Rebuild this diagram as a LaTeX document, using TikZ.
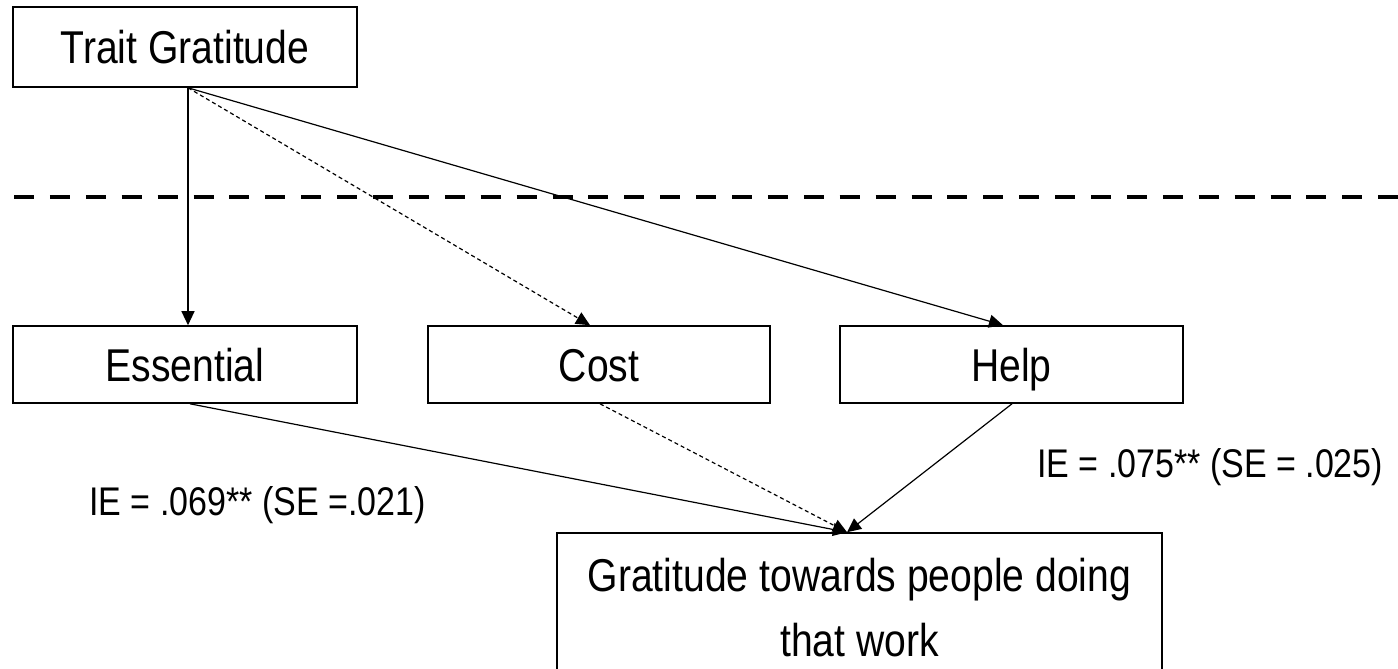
\documentclass[tikz,border=0pt]{standalone}
\usepackage{fontspec}
\usepackage{tikz}
\usetikzlibrary{arrows.meta}
\newfontfamily\narrowsf[FakeStretch=0.85]{Liberation Sans}
\tikzset{
  varnode/.style = {rectangle, draw=black, line width=1.6pt, inner sep=0pt,
    text height=33pt, text depth=0pt,
    font=\narrowsf\fontsize{46}{65}\selectfont},
  outnode/.style = {rectangle, draw=black, line width=1.6pt, inner sep=0pt,
    align=center, font=\narrowsf\fontsize{46}{65}\selectfont},% two lines
  ie_lbl/.style = {inner sep=0pt, anchor=base west,
    font=\narrowsf\fontsize{40}{48}\selectfont},
  path_sig/.style = {line width=1.2pt},
  path_ns/.style = {line width=1.2pt, dash pattern=on 4pt off 3pt},
}

\begin{document}
\begin{tikzpicture}[x=1pt,y=-1pt,->,>={Triangle[length=14pt,width=13pt]}]
\useasboundingbox (0,0) rectangle (1398,669);
\node [varnode, minimum width=344pt, minimum height=80pt] (trait) at (185,47) {Trait Gratitude};
\node [varnode, minimum width=344pt, minimum height=77pt] (essential) at (185,364.5) {Essential};
\node [varnode, minimum width=342pt, minimum height=77pt] (cost) at (599,364.5) {Cost};
\node [varnode, minimum width=343pt, minimum height=77pt] (help) at (1011.5,364.5) {Help};
\node [outnode, minimum width=605pt, minimum height=150pt] (grat) at (859.5,608)
  {Gratitude towards people doing\\that work};

% separator
\coordinate (sepL) at (14,197);
\coordinate (sepR) at (1420,197);
\draw [-, line width=4pt, dash pattern=on 20pt off 15.9pt] (sepL) -- (sepR);

% a paths
\coordinate (src) at ([xshift=3pt]trait.south);
\draw [path_sig] (src) -- (src |- essential.north);
\draw [path_ns] (src) -- ([xshift=-9pt]cost.north);
\draw [path_sig] (src) -- ([xshift=-8.5pt]help.north);

% b paths
\coordinate (tgt) at ([xshift=-12.5pt]grat.north);
\draw [path_sig] ([xshift=5pt]essential.south) -- (tgt);
\draw [path_ns] ([xshift=1pt]cost.south) -- (tgt);
\draw [path_sig] ([xshift=0.5pt]help.south) -- (tgt);

\node [ie_lbl] (ie_ess) at (89,515) {IE = .069** (SE =.021)};
\node [ie_lbl] (ie_help) at (1037,477) {IE = .075** (SE = .025)};
\end{tikzpicture}
\end{document}
